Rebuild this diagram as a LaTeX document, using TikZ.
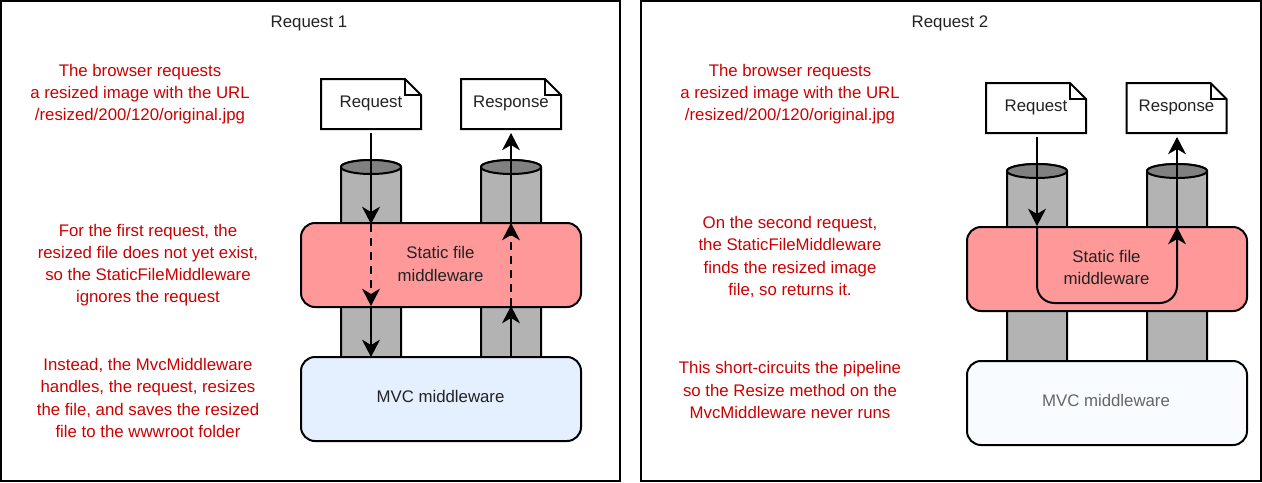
\documentclass[tikz,border=0pt]{standalone}
\usepackage{fontspec}
\setmainfont{Liberation Sans}
\usetikzlibrary{arrows.meta}
\definecolor{notered}{HTML}{CC0000}
\definecolor{inktext}{HTML}{222222}
\definecolor{staticred}{HTML}{FF9999}
\definecolor{mvcblue}{HTML}{E4F0FF}
\definecolor{mvcpale}{HTML}{F8FBFF}
\definecolor{pipegrey}{HTML}{B3B3B3}
\definecolor{pipetopgrey}{HTML}{808080}
\tikzset{
 x=0.75pt,y=-0.75pt,
 frame/.style={draw=black,line width=1.5pt,fill=white},
 title/.style={font=\fontsize{12.6}{16}\selectfont,text=inktext,inner sep=0pt},
 note/.style={font=\fontsize{12.6}{16.6}\selectfont,text=notered,align=center,inner sep=0pt},
 doclabel/.style={font=\fontsize{12.6}{16}\selectfont,text=inktext,align=center,inner sep=0pt},
 mware/.style={draw=black,line width=1.5pt,rounded corners=10.5pt,outer sep=0pt,inner sep=0pt,
   minimum width=210pt,minimum height=63pt,anchor=north west,
   font=\fontsize{12.6}{16.6}\selectfont,text=inktext},
 mwaretext/.style={font=\fontsize{12.6}{16.6}\selectfont,text=inktext,align=center,inner sep=0pt},
 pipe/.style={draw=black,line width=1.5pt,fill=pipegrey},
 pipetop/.style={draw=black,line width=1.5pt,fill=pipetopgrey},
 doc/.style={draw=black,line width=1.5pt,fill=white},
 flow/.style={draw=black,line width=1.1pt,-{Stealth[length=13pt,width=13.5pt,inset=4pt]}},
 flowd/.style={flow,dash pattern=on 6pt off 4.5pt},
 loopline/.style={draw=black,line width=1.5pt,rounded corners=13pt},
}
\newcommand{\pipeat}[3]{%
 \path[pipe] (#1-30,#2) -- (#1-30,#3) -- (#1+30,#3) -- (#1+30,#2) arc[start angle=0,end angle=180,x radius=22.5pt,y radius=5.25pt];
 \path[pipetop] (#1,#2) ellipse[x radius=22.5pt,y radius=5.25pt];
}
\newcommand{\docat}[4]{%
 \path[doc] (#1,#2) -- (#1+84,#2) -- (#1+100,#2+16) -- (#1+100,#2+50) -- (#1,#2+50) -- cycle;
 \draw[line width=1.5pt] (#1+84,#2) -- (#1+84,#2+16) -- (#1+100,#2+16);
 \node[doclabel] (#4) at (#1+50,#2+24) {#3};
}
\begin{document}
\begin{tikzpicture}
\useasboundingbox (0,0) rectangle (1262,482);
\path[fill=white] (0,0) rectangle (1262,482);
\path[frame] (0.5,0.7) rectangle (620.4,480.7);
\path[frame] (641,0.7) rectangle (1260.7,480.7);
\node[title] (t1) at (309,23) {Request 1};
\node[title] (t2) at (950,23) {Request 2};
% left
\node[note] (n1) at (140,94) {The browser requests\\a resized image with the URL\\/resized/200/120/original.jpg};
\node[note] (n2) at (148,265) {For the first request, the\\resized file does not yet exist,\\so the StaticFileMiddleware\\ignores the request};
\node[note] (n3) at (148,398) {Instead, the MvcMiddleware\\handles, the request, resizes\\the file, and saves the resized\\file to the wwwroot folder};
\pipeat{371}{167}{357}
\pipeat{511}{167}{357}
\docat{321}{79}{Request}{req1}
\docat{461}{79}{Response}{res1}
\node[mware,fill=staticred] (s1) at (301,223) {};
\node[mware,fill=mvcblue] (m1) at (301,357) {};
\node[mwaretext] (s1t) at (440.5,264) {Static file\\middleware};
\node[mwaretext] (m1t) at (440.5,398) {\strut MVC middleware};
\coordinate (a1) at (371,133);
\coordinate (a2) at (371,224);
\coordinate (a3) at (371,306);
\draw[flow] (a1) -- (a2);
\draw[flowd] (a2) -- (a3);
\draw[flow] (a3) -- (m1.north -| a3);
\coordinate (b1) at (511,357);
\coordinate (b2) at (511,306);
\coordinate (b3) at (511,223);
\coordinate (b4) at (511,133);
\draw[flow] (b1) -- (b2);
\draw[flowd] (b2) -- (b3);
\draw[flow] (b3) -- (b4);
% right
\node[note] (n4) at (790,94) {The browser requests\\a resized image with the URL\\/resized/200/120/original.jpg};
\node[note] (n5) at (790,257) {On the second request,\\the StaticFileMiddleware\\finds the resized image\\file, so returns it.};
\node[note] (n6) at (790,390) {This short-circuits the pipeline\\so the Resize method on the\\MvcMiddleware never runs};
\pipeat{1037}{171}{361}
\pipeat{1177}{171}{361}
\docat{986}{83}{Request}{req2}
\docat{1126.5}{83}{Response}{res2}
\node[mware,fill=staticred] (s2) at (967,227) {};
\node[mware,fill=mvcpale] (m2) at (967,361) {};
\node[mwaretext] (s2t) at (1106.5,267.5) {Static file\\middleware};
\node[mwaretext,text=black!60] (m2t) at (1106,402) {\strut MVC middleware};
\coordinate (c1) at (1037,137);
\coordinate (c2) at (1037,226);
\coordinate (c3) at (1177,227);
\coordinate (c4) at (1177,137);
\draw[flow] (c1) -- (c2);
\draw[loopline] (c2) -- (1037,303) -- (1177,303) -- (c3);
\draw[flow] (c3) -- (c4);
\draw[flow] (1177,260) -- (c3);
\end{tikzpicture}
\end{document}
